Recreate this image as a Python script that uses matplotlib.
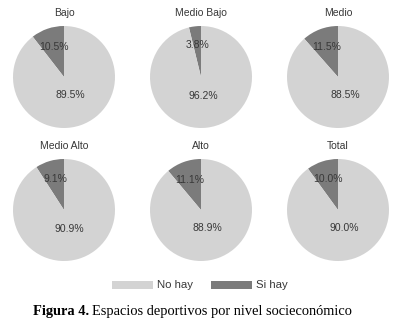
import matplotlib
matplotlib.use("Agg")
import matplotlib.pyplot as plt
import numpy as np

categories = ["Bajo", "Medio Bajo", "Medio", "Medio Alto", "Alto", "Total"]
no_hay = [89.5, 96.2, 88.5, 90.9, 88.9, 90.0]
si_hay = [10.5, 3.8, 11.5, 9.1, 11.1, 10.0]
legend_labels = ["No hay", "Si hay"]

c_light = "#d3d3d3"
c_dark = "#7b7b7b"

W, H = 400, 334
fig = plt.figure(figsize=(W / 100, H / 100), dpi=100)
fig.patch.set_facecolor("white")

font = "Liberation Sans"
centers = [(64, 77), (201, 77), (338, 77), (64, 210), (201, 210), (338, 210)]
R = 51

for cat, nh, sh, (cx, cy) in zip(categories, no_hay, si_hay, centers):
    ax = fig.add_axes([(cx - R) / W, 1 - (cy + R) / H, 2 * R / W, 2 * R / H])
    vals = [sh, nh]
    wedges, _ = ax.pie(vals, colors=[c_dark, c_light], startangle=90,
                       counterclock=True, wedgeprops=dict(linewidth=0))
    ax.set_xlim(-1, 1)
    ax.set_ylim(-1, 1)
    ax.set_aspect("equal")
    ax.axis("off")
    total = sum(vals)
    start = 90.0
    for v, dist in zip(vals, [0.63, 0.38]):
        span = 360.0 * v / total
        mid = np.deg2rad(start + span / 2)
        ax.text(dist * np.cos(mid), dist * np.sin(mid), f"{v:.1f}%",
                ha="center", va="center", fontsize=7.5, family=font, color="#383838")
        start += span
    fig.text(cx / W, 1 - (cy - R - 13) / H, cat, ha="center", va="center",
             fontsize=7.5, family=font, color="#383838")

# legend
from matplotlib.patches import Rectangle
for lab, col, x0 in zip(legend_labels, [c_light, c_dark], [112, 211]):
    fig.patches.append(Rectangle((x0 / W, 1 - 289 / H), 41 / W, 8 / H,
                                 transform=fig.transFigure, color=col, lw=0))
    fig.text((x0 + 45) / W, 1 - 285 / H, lab, ha="left", va="center",
             fontsize=8.2, family=font, color="#383838")

# caption
t1 = fig.text(33 / W, 1 - 312 / H, "Figura 4.", ha="left", va="center",
              fontsize=10.4, family="Liberation Serif", weight="bold", color="black")
fig.canvas.draw()
bb = t1.get_window_extent()
fig.text((bb.x1 + 3) / W, 1 - 312 / H, "Espacios deportivos por nivel socieconómico",
         ha="left", va="center", fontsize=10.4, family="Liberation Serif", color="black")

fig.savefig("out.png", dpi=100)
